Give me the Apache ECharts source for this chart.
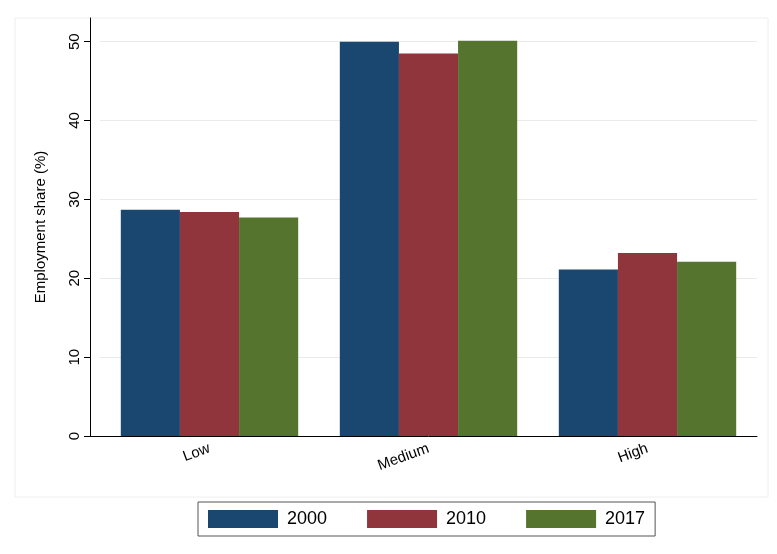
<!DOCTYPE html>
<html><head><meta charset="utf-8">
<script src="https://cdn.jsdelivr.net/npm/echarts@6/dist/echarts.min.js"></script>
<style>html,body{margin:0;background:#fff}#c{width:777px;height:554px}</style>
</head><body><div id="c"></div>
<script>
const categories = ['Low', 'Medium', 'High'];
const years = ['2000', '2010', '2017'];
const s2000 = [28.7, 50.0, 21.1];
const s2010 = [28.4, 48.5, 23.2];
const s2017 = [27.7, 50.1, 22.1];
const yTicks = [0, 10, 20, 30, 40, 50];
const colors = ['#1a476f', '#90353b', '#55752f'];
const chart = echarts.init(document.getElementById('c'));
chart.setOption({
  animation: false,
  graphic: [
    {type: 'rect', shape: {x: 15, y: 18, width: 753, height: 479}, style: {fill: 'none', stroke: '#eeeeee', lineWidth: 1}},
    {type: 'line', shape: {x1: 90, y1: 436.5, x2: 101, y2: 436.5}, style: {stroke: '#000', lineWidth: 1}}
  ],
  legend: {
    bottom: 18, left: 198, itemWidth: 70, itemHeight: 18, itemGap: 40,
    textStyle: {fontFamily: 'Liberation Sans', fontSize: 18, color: '#000', padding: [0, 0, 0, 4]},
    padding: [8, 10], borderColor: '#555', borderWidth: 1,
    data: years, icon: 'rect'
  },
  grid: {left: 100, right: 20, top: 18, bottom: 118},
  xAxis: {
    type: 'category', data: categories,
    axisLine: {lineStyle: {color: '#000'}}, axisTick: {show: false},
    axisLabel: {rotate: 20, fontFamily: 'Liberation Sans', fontSize: 15, color: '#000', margin: 12}
  },
  yAxis: {
    type: 'value', min: 0, max: 53, interval: 10, offset: 10,
    name: 'Employment share (%)', nameLocation: 'middle', nameGap: 42,
    nameTextStyle: {fontFamily: 'Liberation Sans', fontSize: 15, color: '#000'},
    axisLine: {show: true, lineStyle: {color: '#000'}},
    axisTick: {show: true, length: 6, lineStyle: {color: '#000'}, customValues: yTicks},
    axisLabel: {rotate: 90, fontFamily: 'Liberation Sans', fontSize: 15, color: '#000', customValues: yTicks},
    splitLine: {lineStyle: {color: '#eaeaea'}}
  },
  series: [s2000, s2010, s2017].map((d, i) => ({
    name: years[i], type: 'bar', data: d, barGap: '0%', barCategoryGap: '19%',
    itemStyle: {color: colors[i]}
  }))
});
</script></body></html>
